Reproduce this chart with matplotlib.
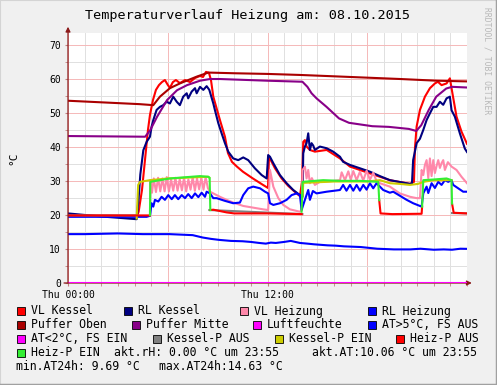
import numpy as np
import matplotlib.pyplot as plt
from matplotlib.patches import Rectangle

nan = np.nan

# time in hours since Thu 00:00, temperatures in °C
vl_kessel_h = [0, 4.15, 4.25, 4.45, 4.63, 4.81, 4.93, 5.11, 5.29, 5.47, 5.65, 5.83, 6.01, 6.13,
               6.31, 6.49, 6.73, 7.04, 7.34, 7.64, 7.94, 8.12, 8.30, 8.48, 8.60, 8.74, 9.14,
               9.44, 9.62, 9.86, 10.16, 10.52, 11.12, 11.73, 12.03, 12.09, 12.45, 12.85,
               13.25, 13.75, 13.95, 14.08, 14.15, 14.25, 14.35, 14.55, 14.85, 15.56, 16.36,
               16.96, 18.16, 18.76, 19.36, 20.57, 20.81, 20.87, 20.97, 21.17, 21.47, 21.77,
               22.07, 22.25, 22.47, 22.77, 22.97, 23.07, 23.37, 23.67, 24.0]
vl_kessel = [19.9, 19.7, 21.0, 27.4, 36.2, 45.1, 49.5, 53.9, 56.9, 58.3, 59.2, 59.8, 58.3, 57.5,
             59.2, 59.8, 58.9, 59.8, 59.2, 60.4, 61.0, 60.7, 62.2, 61.9, 59.8, 54.9, 48.0,
             43.1, 38.3, 35.7, 34.3, 32.8, 30.8, 28.9, 28.0, 37.2, 33.8, 30.8,
             28.6, 26.4, 25.6, 30.0, 41.6, 42.1, 40.2, 39.2, 38.7, 39.2, 36.7,
             34.3, 32.3, 31.3, 30.3, 29.2, 29.8, 39.8, 46.1, 51.0, 54.9, 57.4,
             58.8, 59.3, 58.3, 58.8, 60.3, 57.4, 49.0, 44.6, 41.0]

rl_kessel_h = [0, 2, 4.13, 4.25, 4.35, 4.53, 4.73, 4.93, 5.03, 5.13, 5.23, 5.33, 5.53, 5.73,
               5.93, 6.13, 6.33, 6.54, 6.73, 6.93, 7.14, 7.23, 7.44, 7.64, 7.74, 7.94, 8.14,
               8.34, 8.50, 8.74, 8.84, 9.04, 9.24, 9.44, 9.64, 9.94, 10.24, 10.54, 10.84,
               11.24, 11.65, 11.95, 12.04, 12.15, 12.35, 12.75, 13.15, 13.55, 13.95, 14.11,
               14.15, 14.25, 14.35, 14.45, 14.55, 14.65, 14.75, 14.85, 15.15, 15.56, 15.95,
               16.36, 16.55, 16.96, 17.56, 18.16, 18.76, 19.36, 20.57, 20.69, 20.76, 20.97,
               21.17, 21.37, 21.57, 21.77, 21.97, 22.17, 22.37, 22.57, 22.77, 22.97, 23.07,
               23.27, 23.57, 23.87, 24.0]
rl_kessel = [20.5, 19.6, 18.8, 25.0, 32.0, 39.1, 41.6, 43.1, 46.1, 48.0, 49.5, 51.0, 51.9, 52.4,
             53.4, 52.9, 54.9, 53.4, 52.4, 54.9, 55.9, 54.4, 56.4, 57.4, 55.9, 57.8, 56.9,
             58.0, 56.9, 52.9, 50.9, 47.1, 44.1, 41.2, 38.7, 36.7, 36.2, 37.0, 36.2,
             33.8, 31.8, 30.8, 37.7, 37.2, 35.3, 31.8, 29.4, 27.4, 25.9, 25.4,
             38.2, 40.2, 41.2, 44.1, 39.2, 41.2, 40.5, 39.2, 40.2, 39.7, 38.7,
             37.2, 35.7, 34.8, 33.8, 32.8, 31.5, 30.3, 29.2, 29.4, 36.2, 41.2,
             42.5, 45.1, 48.0, 50.0, 51.9, 51.9, 53.4, 52.5, 54.4, 54.9, 50.9,
             49.0, 44.1, 39.6, 38.6]

vl_heizung_h = [0, 4.93, 4.95, 5.05, 5.16, 5.29, 5.42, 5.55, 5.68, 5.81, 5.94, 6.07, 6.20, 6.33,
                6.46, 6.59, 6.72, 6.85, 6.98, 7.11, 7.24, 7.37, 7.50, 7.63, 7.76, 7.89, 8.02,
                8.15, 8.28, 8.41, 8.54, 9.14, 9.54, 9.94, 10.54, 11.14, 11.74, 12.04, 12.15,
                12.35, 12.65, 12.95, 13.35, 13.95, 14.05, 14.11, 14.25, 14.35, 14.45, 14.55,
                14.67, 14.85, 15.15, 15.8, 16.36, 16.46, 16.66, 16.86, 17.01, 17.16, 17.36,
                17.56, 17.76, 17.96, 18.16, 18.36, 18.56, 18.76, 19.36, 19.96, 20.57, 20.97,
                21.17, 21.27, 21.37, 21.47, 21.57, 21.67, 21.77, 21.87, 21.97, 22.07, 22.17,
                22.27, 22.37, 22.47, 22.57, 22.67, 22.85, 23.07, 23.37, 23.67, 24.0]
vl_heizung = [19.8, 19.8, 30.3, 26.6, 30.8, 26.8, 31.0, 27.0, 30.8, 27.0, 31.2, 27.0, 30.5, 27.2,
              31.0, 27.2, 30.6, 27.3, 31.0, 27.0, 30.5, 27.5, 31.2, 27.2, 30.8, 27.6, 31.0,
              27.5, 31.2, 28.0, 26.9, 25.4, 24.5, 23.7, 22.7, 22.2, 21.7, 21.5, 33.3,
              28.4, 25.0, 23.0, 21.7, 21.0, 21.5, 33.3, 34.3, 30.8, 33.3, 29.4,
              30.9, 28.9, 29.8, 30.0, 30.3, 32.6, 30.3, 32.9, 30.4, 33.0, 30.3,
              32.8, 30.2, 33.1, 30.4, 32.5, 30.0, 29.4, 28.4, 26.4, 25.4, 25.0,
              25.0, 33.3, 31.8, 34.8, 36.2, 30.9, 36.7, 31.5, 36.2, 32.4, 34.5,
              36.2, 33.9, 35.3, 36.2, 33.3, 35.6, 34.3, 33.3, 31.3, 29.4]

rl_heizung_h = [0, 4.73, 4.93, 5.03, 5.13, 5.23, 5.43, 5.63, 5.83, 6.03, 6.24, 6.43, 6.63, 6.84,
                7.04, 7.23, 7.44, 7.64, 7.84, 8.04, 8.24, 8.34, 8.54, 8.74, 8.94, 9.44, 9.94,
                10.34, 10.54, 10.84, 11.14, 11.55, 11.85, 12.04, 12.15, 12.35, 12.75, 13.15,
                13.45, 13.75, 13.95, 14.05, 14.25, 14.45, 14.55, 14.73, 14.95, 15.56, 16.36,
                16.55, 16.75, 16.96, 17.16, 17.36, 17.56, 17.76, 17.96, 18.16, 18.36, 18.56,
                18.76, 18.96, 19.36, 19.56, 20.37, 20.76, 21.27, 21.37, 21.57, 21.67, 21.87,
                22.07, 22.27, 22.47, 22.67, 22.87, 23.07, 23.17, 23.47, 23.77, 24.0]
rl_heizung = [19.5, 19.5, 19.8, 23.5, 22.5, 24.5, 24.0, 25.4, 24.5, 25.9, 24.7, 25.9, 24.7, 25.9,
              25.0, 26.2, 25.0, 26.4, 25.3, 26.6, 25.4, 26.9, 26.4, 25.0, 25.0, 24.2, 23.5,
              23.7, 25.9, 27.9, 28.4, 27.9, 26.9, 26.4, 23.5, 23.0, 23.5, 24.5,
              25.9, 26.4, 25.9, 21.5, 24.5, 27.4, 24.5, 27.1, 26.4, 26.9, 27.4,
              28.9, 27.2, 28.9, 27.2, 28.9, 27.2, 28.9, 27.5, 29.4, 27.9, 29.4,
              28.4, 27.4, 26.6, 26.9, 24.5, 23.5, 22.5, 26.4, 28.4, 26.5, 29.4,
              28.0, 29.8, 28.9, 30.3, 29.8, 30.3, 28.9, 27.9, 26.9, 26.9]

puffer_oben_h = [0, 4.3, 5.13, 5.53, 6.13, 6.73, 7.74, 8.44, 10.0, 12.0, 13.95, 16.0, 18.0,
                 20.0, 22.2, 24.0]
puffer_oben = [53.7, 52.7, 52.4, 54.9, 57.4, 58.8, 60.8, 62.0, 61.8, 61.6, 61.3, 60.9, 60.5,
               60.1, 59.6, 59.4]

puffer_mitte_h = [0, 4.64, 4.94, 5.36, 5.96, 6.56, 7.16, 7.94, 8.54, 9.14, 12.0, 14.1, 14.4,
                  14.65, 14.95, 15.55, 16.3, 16.9, 18.3, 19.3, 20.5, 20.95, 21.25, 21.7, 22.15,
                  22.75, 23.1, 24.0]
puffer_mitte = [43.3, 43.1, 45.0, 49.0, 53.9, 56.8, 58.3, 59.6, 60.1, 60.1, 59.6, 59.3, 57.8,
                55.9, 54.4, 51.9, 48.5, 47.2, 46.2, 46.0, 45.4, 44.8, 46.5, 51.0, 54.9,
                57.3, 57.8, 57.6]

luftfeuchte_h = [0, 24.0]
luftfeuchte = [0.0, 0.0]

aussen_h = [0, 1.0, 2.0, 3.0, 4.5, 6.1, 7.5, 8.1, 8.6, 9.1, 9.8, 10.5, 11.0, 11.5, 11.9, 12.2,
            12.5, 13.0, 13.4, 13.95, 14.4, 14.8, 15.6, 16.1, 16.6, 17.6, 18.6, 19.6, 20.6,
            21.2, 22.0, 22.6, 23.1, 23.6, 24.0]
aussen = [14.4, 14.4, 14.5, 14.6, 14.4, 14.4, 14.1, 13.4, 13.0, 12.7, 12.4, 12.3, 12.1, 11.8,
          11.6, 11.9, 11.8, 12.1, 12.4, 11.8, 11.6, 11.4, 11.1, 11.0, 10.8, 10.6, 10.1, 9.9,
          9.9, 10.1, 9.8, 9.9, 9.8, 10.1, 10.06]

kessel_p_aus_h = [0, 4.13, nan, 8.5, 14.1, nan, 23.1, 24.0]
kessel_p_aus = [19.9, 19.9, nan, 21.5, 20.3, nan, 20.6, 20.5]

kessel_p_ein_h = [4.13, 4.22, 4.33, 4.93, 6.0, 8.44, 8.5, nan, 14.11, 14.15, 16.0, 18.0,
                  18.76, 19.36, 19.96, 20.57, 21.05, 21.37, 22.0, 23.07]
kessel_p_ein = [19.0, 28.9, 29.8, 30.3, 30.8, 31.3, 31.0, nan, 25.5, 29.5, 29.9, 29.9,
                30.3, 29.4, 29.2, 28.9, 29.2, 29.8, 30.3, 30.3]

heiz_p_aus_h = [0, 4.93, nan, 8.56, 8.74, 9.14, 9.54, 10.0, 12.0, 14.05, nan, 18.72, 18.80,
                19.5, 21.27, 21.30, nan, 23.10, 23.2, 24.0]
heiz_p_aus = [19.9, 19.9, nan, 21.5, 21.6, 21.2, 20.8, 20.5, 20.5, 20.3, nan, 24.4, 20.5,
              20.3, 20.4, 22.5, nan, 23.4, 20.7, 20.5]

heiz_p_ein_h = [4.93, 4.95, 6.13, 7.94, 8.44, 8.52, 8.56, nan, 14.05, 14.11, 15.35, 16.36,
                17.56, 18.66, 18.72, nan, 21.30, 21.37, 22.0, 22.77, 23.07, 23.10]
heiz_p_ein = [20.0, 29.8, 30.8, 31.5, 31.3, 31.0, 21.5, nan, 21.0, 29.8, 30.3, 30.1,
              30.1, 29.8, 24.4, nan, 22.5, 30.3, 30.5, 30.8, 30.3, 23.4]

x_ticks = [0, 6, 12, 18]
x_labels = ["Thu 00:00", "", "Thu 12:00", ""]

MONO = "DejaVu Sans Mono"
W, H = 497, 385

fig = plt.figure(figsize=(W / 100, H / 100), dpi=100, facecolor="#F0F0F0")
ax = fig.add_axes([68 / W, 1 - 283 / H, 399 / W, 250 / H])
ax.set_facecolor("white")
ax.set_xlim(0, 24)
ax.set_ylim(0, 250 / 3.394)

series = [
    (vl_kessel_h, vl_kessel, "#FF0000"),
    (rl_kessel_h, rl_kessel, "#000080"),
    (vl_heizung_h, vl_heizung, "#FF88AA"),
    (rl_heizung_h, rl_heizung, "#0000FF"),
    (puffer_oben_h, puffer_oben, "#AA0000"),
    (puffer_mitte_h, puffer_mitte, "#880088"),
    (luftfeuchte_h, luftfeuchte, "#FF00FF"),
    (aussen_h, aussen, "#0000FF"),
    (kessel_p_aus_h, kessel_p_aus, "#808080"),
    (kessel_p_ein_h, kessel_p_ein, "#CCCC00"),
    (heiz_p_aus_h, heiz_p_aus, "#FF0000"),
    (heiz_p_ein_h, heiz_p_ein, "#33EE33"),
]
for i, (xs, ys, col) in enumerate(series):
    ax.plot(xs, ys, color=col, lw=1.5, zorder=3 + i * 0.01, solid_joinstyle="round")

ax.set_xticks(x_ticks)
ax.set_xticklabels(x_labels, family=MONO, fontsize=7)
ax.set_xticks(np.arange(0, 25, 1), minor=True)
ax.set_yticks(np.arange(0, 71, 10))
ax.set_yticklabels([str(v) for v in range(0, 71, 10)], family=MONO, fontsize=7)
ax.set_yticks(np.arange(0, 74, 5), minor=True)
ax.grid(which="minor", color="#E0E0E0", lw=0.7, zorder=1)
ax.grid(which="major", color="#F5B8B8", lw=0.7, zorder=1.5)
ax.tick_params(which="both", length=2, color="#C08080", pad=3)
for s in ax.spines.values():
    s.set_visible(False)

# axis lines with arrows
ax.annotate("", xy=(0, 1.025), xytext=(0, 0), xycoords="axes fraction",
            arrowprops=dict(arrowstyle="-|>", color="#8B1A1A", lw=0.9, mutation_scale=7,
                            shrinkA=0, shrinkB=0), zorder=5)
ax.annotate("", xy=(1.012, 0), xytext=(-0.01, 0), xycoords="axes fraction",
            arrowprops=dict(arrowstyle="-|>", color="#8B1A1A", lw=0.9, mutation_scale=7,
                            shrinkA=0, shrinkB=0), zorder=2)

fig.text(247.5 / W, 1 - 15 / H, "Temperaturverlauf Heizung am: 08.10.2015",
         ha="center", va="center", family=MONO, fontsize=9.7)
fig.text(13 / W, 1 - 158 / H, "°C", rotation=90, ha="center", va="center",
         family=MONO, fontsize=8)
fig.text(487 / W, 1 - 7 / H, "RRDTOOL / TOBI OETIKER", rotation=270, ha="center",
         va="top", family=MONO, fontsize=5.8, color="#B8B8B8")

legend_rows = [311, 325, 339, 352.5, 366.5]
legend_items = [
    (0, 17, "VL Kessel", "#FF0000"), (0, 124, "RL Kessel", "#000080"),
    (0, 240, "VL Heizung", "#FF88AA"), (0, 368, "RL Heizung", "#0000FF"),
    (1, 17, "Puffer Oben", "#AA0000"), (1, 132, "Puffer Mitte", "#880088"),
    (1, 253, "Luftfeuchte", "#FF00FF"), (1, 368, "AT>5°C, FS AUS", "#0000FF"),
    (2, 17, "AT<2°C, FS EIN", "#FF00FF"), (2, 153, "Kessel-P AUS", "#808080"),
    (2, 275, "Kessel-P EIN", "#CCCC00"), (2, 396, "Heiz-P AUS", "#FF0000"),
    (3, 17, "Heiz-P EIN", "#33EE33"),
]
for row, x0, label, col in legend_items:
    y = legend_rows[row]
    fig.add_artist(Rectangle((x0 / W, 1 - (y + 4) / H), 8 / W, 8 / H,
                             transform=fig.transFigure, facecolor=col,
                             edgecolor="black", lw=0.6))
    fig.text((x0 + 14) / W, 1 - y / H, label, ha="left", va="center",
             family=MONO, fontsize=8.3)

extra_text = [
    (3, 114, "akt.rH: 0.00 °C um 23:55"),
    (3, 312.5, "akt.AT:10.06 °C um 23:55"),
    (4, 16.5, "min.AT24h: 9.69 °C"),
    (4, 159, "max.AT24h:14.63 °C"),
]
for row, x0, txt in extra_text:
    fig.text(x0 / W, 1 - legend_rows[row] / H, txt, ha="left", va="center",
             family=MONO, fontsize=8.3)

# frame around the image
fig.add_artist(plt.Line2D([0, 0, 1], [0, 1, 1], transform=fig.transFigure,
                          color="#D4D4D4", lw=1.5))
fig.add_artist(plt.Line2D([0, 1, 1], [0, 0, 1], transform=fig.transFigure,
                          color="#A0A0A0", lw=2.5))

fig.savefig("out.png", dpi=100, facecolor=fig.get_facecolor())
